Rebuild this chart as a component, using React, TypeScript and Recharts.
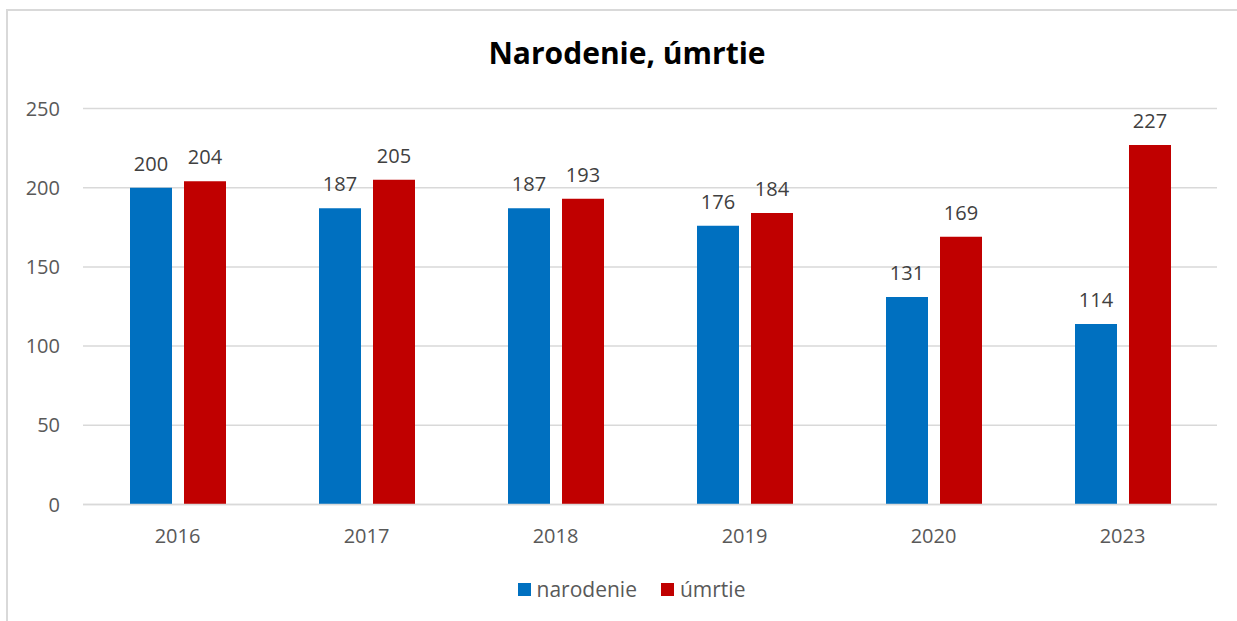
import React from "react";
import { BarChart, Bar, XAxis, YAxis, CartesianGrid, Legend, LabelList } from "recharts";

const years = ["2016", "2017", "2018", "2019", "2020", "2023"];
const narodenie = [200, 187, 187, 176, 131, 114];
const umrtie = [204, 205, 193, 184, 169, 227];
const yTicks = [0, 50, 100, 150, 200, 250];
const seriesNames = { narodenie: "narodenie", umrtie: "úmrtie" };
const colors = { narodenie: "#0070C0", umrtie: "#C00000" };

const data = years.map((y, i) => ({ year: y, narodenie: narodenie[i], umrtie: umrtie[i] }));

const FONT = "'Open Sans', Lato, sans-serif";

const LegendContent = () => (
  <div
    style={{
      display: "flex",
      justifyContent: "center",
      alignItems: "center",
      height: 24,
      paddingLeft: 46,
      fontFamily: FONT,
      fontSize: 21,
      color: "#595959",
    }}
  >
    {(["narodenie", "umrtie"] as const).map((k, i) => (
      <div key={k} style={{ display: "flex", alignItems: "center", marginLeft: i === 0 ? 0 : 24 }}>
        <div style={{ width: 13, height: 13, background: colors[k], marginRight: 6 }} />
        <span>{seriesNames[k]}</span>
      </div>
    ))}
  </div>
);

export default function App() {
  return (
    <div style={{ position: "absolute", left: 0, top: 0, width: 1237, height: 621, background: "#fff", overflow: "hidden" }}>
      <div
        style={{
          position: "absolute",
          left: 6,
          top: 9,
          width: 1300,
          height: 700,
          border: "2px solid #D9D9D9",
          boxSizing: "border-box",
        }}
      />
      <div style={{ position: "absolute", left: 0, top: 0 }}>
        <BarChart
          width={1237}
          height={621}
          data={data}
          margin={{ top: 108.5, right: 20, bottom: 20, left: 0 }}
          barGap={12}
          barSize={42}
        >
          <text
            x={627}
            y={64}
            textAnchor="middle"
            style={{ fontFamily: FONT, fontSize: 30, fontWeight: 700, fill: "#000" }}
          >
            Narodenie, úmrtie
          </text>
          <CartesianGrid vertical={false} stroke="#D9D9D9" strokeWidth={1.5} />
          <XAxis
            dataKey="year"
            axisLine={{ stroke: "#D9D9D9", strokeWidth: 1.5 }}
            tickLine={false}
            tickSize={0}
            tickMargin={24.5}
            height={72.5}
            tick={{ fontFamily: FONT, fontSize: 20, fill: "#595959" }}
          />
          <YAxis
            domain={[0, 250]}
            ticks={yTicks}
            axisLine={false}
            tickLine={false}
            tickSize={0}
            tickMargin={23}
            width={83}
            tick={{ fontFamily: FONT, fontSize: 20, fill: "#595959" }}
          />
          <Legend verticalAlign="bottom" content={<LegendContent />} />
          <Bar dataKey="narodenie" name={seriesNames.narodenie} fill={colors.narodenie} isAnimationActive={false}>
            <LabelList dataKey="narodenie" position="top" offset={17} style={{ fontFamily: FONT, fontSize: 20, fill: "#404040" }} />
          </Bar>
          <Bar dataKey="umrtie" name={seriesNames.umrtie} fill={colors.umrtie} isAnimationActive={false}>
            <LabelList dataKey="umrtie" position="top" offset={17} style={{ fontFamily: FONT, fontSize: 20, fill: "#404040" }} />
          </Bar>
        </BarChart>
      </div>
    </div>
  );
}
